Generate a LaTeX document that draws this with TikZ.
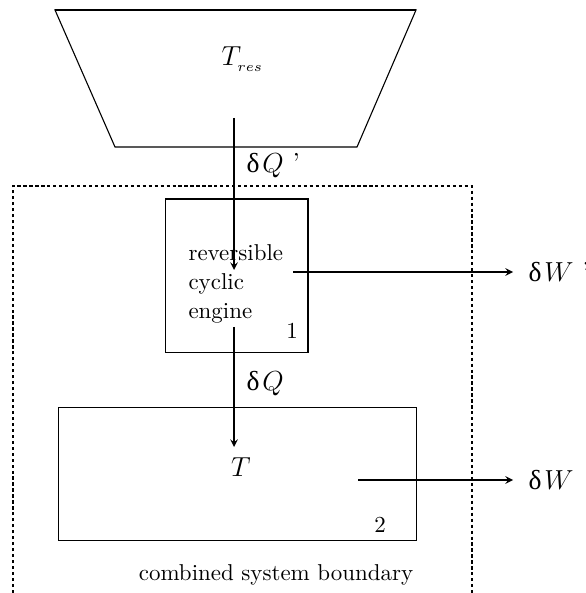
\documentclass[tikz,border=0pt]{standalone}
\usepackage{fontspec}
\newfontfamily\grk{Liberation Serif}
\usetikzlibrary{arrows}

\newcommand{\dlt}{{\grk δ}\kern1.2pt}

\begin{document}
\begin{tikzpicture}[
    x=0.436pt, y=-0.436pt,
    >=stealth,
    line width=0.48pt,
    scatola/.style={draw, inner sep=0pt},
    flusso/.style={->},
    confine/.style={line width=0.5pt, dash pattern=on 1.4pt off 1.2pt},
    etichetta/.style={inner sep=0pt, font=\normalsize},
    grandezza/.style={inner sep=0pt, anchor=west, font=\large}
]
    \useasboundingbox (0,0) rectangle (585,593);

    % serbatoio
    \coordinate (S1) at (55,10);
    \coordinate (S2) at (416,10);
    \coordinate (S3) at (357,147);
    \coordinate (S4) at (115,147);
    \draw (S1) -- (S2) -- (S3) -- (S4) -- cycle;
    \draw[line width=0.9pt] (S1) -- (S2);
    \node[etichetta, font=\large] (Tres) at (243,59) {$T_{_{res}}$};

    % confine del sistema combinato
    \coordinate (C1) at (13,593);
    \coordinate (C2) at (13,186);
    \coordinate (C3) at (472,186);
    \coordinate (C4) at (472,593);
    \draw[confine] (C1) -- (C2) -- (C3) -- (C4);
    \node[etichetta] (conf) at (276,575) {combined system boundary};

    % macchina reversibile
    \node[scatola, minimum width=62.3pt, minimum height=67.1pt] (mac) at (236.5,276) {};
    \node[etichetta, anchor=north west, align=left,
          font=\fontsize{10}{12.6}\selectfont] (macT) at (188,244)
          {reversible\\cyclic\\engine};
    \node[etichetta] (uno) at (292,331) {1};

    % sistema
    \node[scatola, minimum width=155.7pt, minimum height=57.6pt] (sis) at (237.5,474) {};
    \node[etichetta, font=\large] (Tsis) at (241,467) {$T$};
    \node[etichetta] (due) at (380,525) {2};

    % flussi di calore
    \coordinate (q1a) at (234,118);
    \coordinate (q1b) at (234,270);
    \draw[flusso] (q1a) -- (q1b);
    \node[grandezza] (dQ1) at (246,166) {\dlt$Q$ ’};

    \coordinate (q2a) at (234,327);
    \coordinate (q2b) at (234,447);
    \draw[flusso] (q2a) -- (q2b);
    \node[grandezza] (dQ2) at (246,384) {\dlt$Q$};

    % lavori
    \coordinate (w1a) at (293,272);
    \coordinate (w1b) at (513,272);
    \draw[flusso] (w1a) -- (w1b);
    \node[grandezza] (dW1) at (528,272) {\dlt$W$ ’};

    \coordinate (w2a) at (358,480);
    \coordinate (w2b) at (513,480);
    \draw[flusso] (w2a) -- (w2b);
    \node[grandezza] (dW2) at (528,480) {\dlt$W$};

\end{tikzpicture}
\end{document}
